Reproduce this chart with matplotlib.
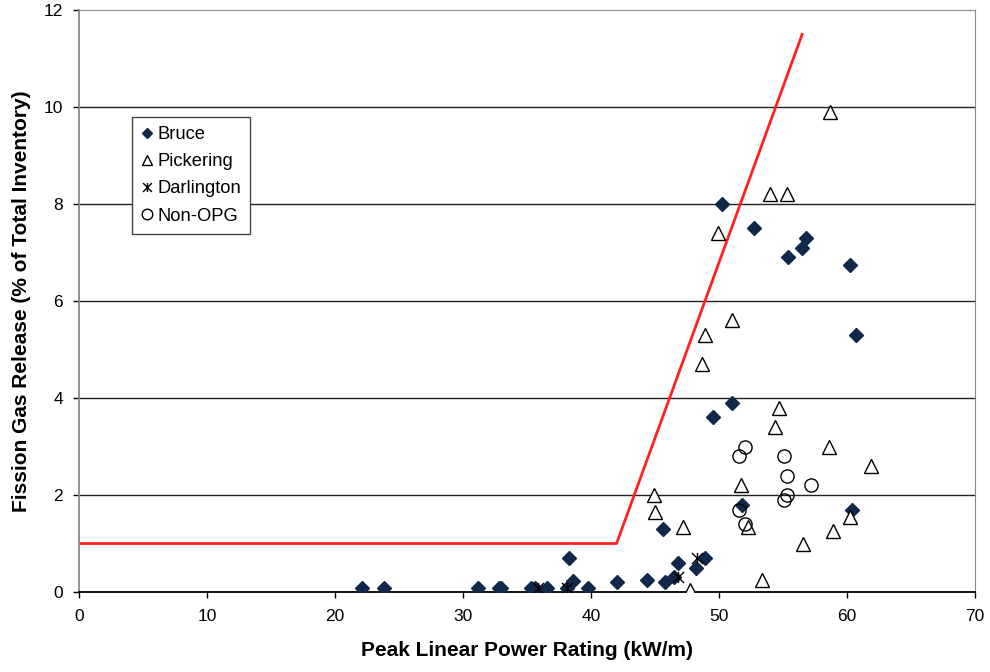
import numpy as np
import matplotlib.pyplot as plt
from matplotlib.path import Path

plt.rcParams['font.family'] = ['Liberation Sans', 'DejaVu Sans']

# ----------------------------
# Data (kW/m, % of total inventory)
# ----------------------------
bruce_x = [22.1, 23.8, 31.2, 32.8, 33.0, 35.3, 35.6, 36.6, 38.1, 38.3, 38.6, 39.8,
           42.0, 44.4, 45.6, 45.8, 46.5, 46.8, 48.2, 48.9, 49.5, 50.2, 51.0, 51.8,
           52.7, 55.4, 56.5, 56.8, 60.2, 60.4, 60.7]
bruce_y = [0.08, 0.08, 0.08, 0.08, 0.08, 0.08, 0.08, 0.08, 0.08, 0.7, 0.23, 0.08,
           0.2, 0.25, 1.3, 0.2, 0.3, 0.6, 0.5, 0.7, 3.6, 8.0, 3.9, 1.8,
           7.5, 6.9, 7.1, 7.3, 6.75, 1.7, 5.3]

pickering_x = [44.9, 45.0, 47.2, 47.7, 48.7, 48.9, 49.9, 51.0, 51.7, 52.3, 53.4,
               54.0, 54.4, 54.7, 55.3, 56.6, 58.6, 58.7, 58.9, 60.2, 61.9]
pickering_y = [2.0, 1.65, 1.35, 0.05, 4.7, 5.3, 7.4, 5.6, 2.2, 1.35, 0.25,
               8.2, 3.4, 3.8, 8.2, 1.0, 3.0, 9.9, 1.25, 1.55, 2.6]

darlington_x = [35.9, 38.1, 46.8, 48.3]
darlington_y = [0.08, 0.08, 0.3, 0.7]

nonopg_x = [51.6, 51.6, 52.0, 52.0, 55.1, 55.1, 55.3, 55.3, 57.2]
nonopg_y = [1.7, 2.8, 3.0, 1.4, 2.8, 1.9, 2.4, 2.0, 2.2]

# threshold curve
limit_x = [0, 42.0, 56.5]
limit_y = [1.0, 1.0, 11.5]

# ----------------------------
# Plot
# ----------------------------
fig = plt.figure(figsize=(9.9, 6.72), dpi=100)
ax = fig.add_axes([0.0798, 0.119, 0.905, 0.866])

# star marker: X with a vertical bar
star = Path([(0, -1), (0, 1), (-1, -1), (1, 1), (-1, 1), (1, -1)],
            [Path.MOVETO, Path.LINETO, Path.MOVETO, Path.LINETO, Path.MOVETO, Path.LINETO])

for yv in range(2, 12, 2):
    ax.axhline(yv, color='#222222', lw=1.0, zorder=1)

ax.plot(limit_x, limit_y, color='#ff2020', lw=2.0, zorder=2)

ax.plot(bruce_x, bruce_y, ls='none', marker='D', ms=7, mfc='#10294a',
        mec='#10294a', label='Bruce', zorder=3)
ax.plot(pickering_x, pickering_y, ls='none', marker='^', ms=9.5, mfc='white',
        mec='black', mew=1.0, label='Pickering', zorder=3)
ax.plot(darlington_x, darlington_y, ls='none', marker=star, ms=8,
        mec='black', mew=1.0, label='Darlington', zorder=4)
ax.plot(nonopg_x, nonopg_y, ls='none', marker='o', ms=9.5, mfc='none',
        mec='black', mew=1.0, label='Non-OPG', zorder=3)

ax.set_xlim(0, 70)
ax.set_ylim(0, 12)
ax.set_xticks(range(0, 71, 10))
ax.set_yticks(range(0, 13, 2))
ax.tick_params(labelsize=12.5, direction='out', length=4.5, width=1, color='black')
ax.tick_params(axis='x', pad=8)
ax.tick_params(axis='y', pad=7)

for side in ('top', 'right', 'left'):
    ax.spines[side].set_color('#888888')
ax.spines['bottom'].set_color('black')
ax.spines['left'].set_linewidth(1.3)
ax.spines['bottom'].set_linewidth(1.3)

ax.set_xlabel('Peak Linear Power Rating (kW/m)', fontsize=15, fontweight='bold', labelpad=12)
ax.set_ylabel('Fission Gas Release (% of Total Inventory)', fontsize=15, fontweight='bold', labelpad=9)

leg = ax.legend(loc='upper left', bbox_to_anchor=(0.059, 0.816), borderaxespad=0,
                fontsize=13.2, fancybox=False, framealpha=1, edgecolor='#444444',
                handlelength=0.6, handletextpad=0.3, labelspacing=0.55, borderpad=0.5,
                markerscale=0.8)
leg.get_frame().set_linewidth(1.0)

fig.savefig('out.png', dpi=100)
